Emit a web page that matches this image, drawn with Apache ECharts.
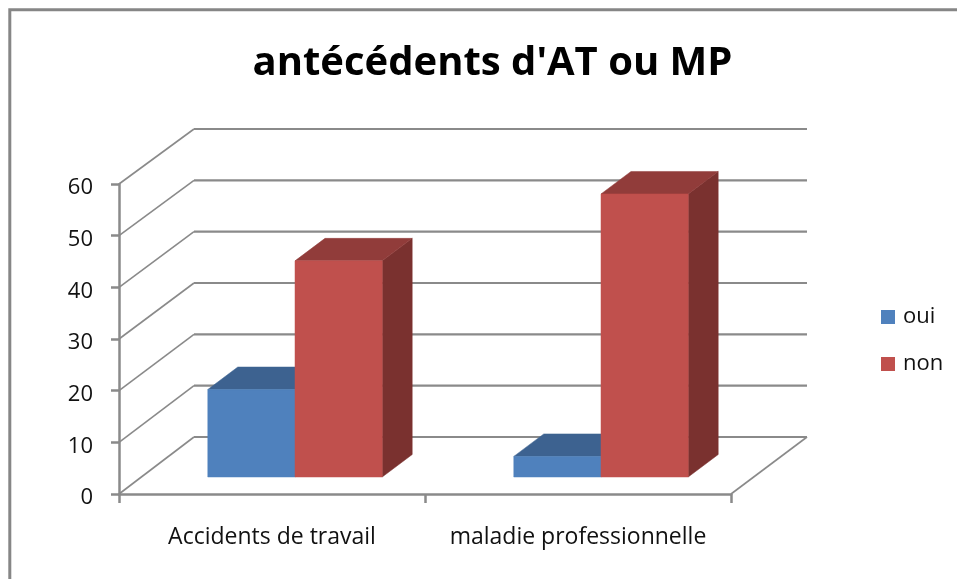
<!DOCTYPE html>
<html>
<head>
<meta charset="utf-8">
<style>html,body{margin:0;padding:0;background:#fff}#c{width:957px;height:579px}</style>
<script src="https://cdn.jsdelivr.net/npm/echarts@6/dist/echarts.min.js"></script>
</head>
<body>
<div id="c"></div>
<script>
const titleText = "antécédents d'AT ou MP";
const categories = ['Accidents de travail', 'maladie professionnelle'];
const oui = [17, 4];
const non = [42, 55];
const yTicks = [0, 10, 20, 30, 40, 50, 60];

const FONT = '"Open Sans", Lato, sans-serif';
const GRID_COLOR = '#8a8a8a';
const WALL = { dx: 75, dyBottom: -57, dyTop: -55 };
const PLANE = { dx: 23, dy: -17, scale: 0.996 };
const DEPTH = { dx: 30, dy: -22.5 };
const BAR_RATIO = 0.285;

function poly(points, fill) {
  return { type: 'polygon', shape: { points: points }, style: { fill: fill, stroke: fill, lineWidth: 0.5 } };
}

function barRenderer(side, front, top, right) {
  return function (params, api) {
    const i = api.value(0), v = api.value(1);
    const base = api.coord([i, 0]);
    const head = api.coord([i, v]);
    const w = api.size([1, 0])[0] * BAR_RATIO;
    const cx = base[0] + PLANE.dx;
    const x0 = side < 0 ? cx - w : cx;
    const x1 = x0 + w;
    const y0 = base[1] + PLANE.dy;
    const y1 = y0 - (base[1] - head[1]) * PLANE.scale;
    return {
      type: 'group',
      children: [
        poly([[x1, y0], [x1 + DEPTH.dx, y0 + DEPTH.dy], [x1 + DEPTH.dx, y1 + DEPTH.dy], [x1, y1]], right),
        poly([[x0, y1], [x0 + DEPTH.dx, y1 + DEPTH.dy], [x1 + DEPTH.dx, y1 + DEPTH.dy], [x1, y1]], top),
        poly([[x0, y0], [x1, y0], [x1, y1], [x0, y1]], front)
      ]
    };
  };
}

function wallRenderer(params, api) {
  const v = api.value(0);
  const sys = params.coordSys;
  const y = api.coord([0, v])[1];
  const left = sys.x, right = sys.x + sys.width;
  const dy = WALL.dyBottom + (WALL.dyTop - WALL.dyBottom) * v / 60;
  const children = [
    { type: 'line', shape: { x1: left, y1: y, x2: left + WALL.dx, y2: y + dy }, style: { stroke: GRID_COLOR, lineWidth: 1.6 } },
    { type: 'line', shape: { x1: left + WALL.dx, y1: y + dy, x2: right + WALL.dx + 1, y2: y + dy }, style: { stroke: GRID_COLOR, lineWidth: 2.2 } }
  ];
  if (v === 0) {
    children.push({ type: 'line', shape: { x1: right, y1: y, x2: right + WALL.dx + 1, y2: y + dy }, style: { stroke: GRID_COLOR, lineWidth: 1.6 } });
  }
  return { type: 'group', children: children };
}

const chart = echarts.init(document.getElementById('c'), null, { renderer: 'canvas' });
chart.setOption({
  animation: false,
  backgroundColor: '#fff',
  title: {
    text: titleText, left: 487.5, top: 39, textAlign: 'center',
    textStyle: { fontFamily: FONT, fontSize: 40, fontWeight: 'bold', color: '#000' }
  },
  legend: {
    orient: 'vertical', left: 876, top: 301, icon: 'rect', itemWidth: 14, itemHeight: 14, itemGap: 25,
    data: ['oui', 'non'],
    selectedMode: false,
    textStyle: { fontFamily: FONT, fontSize: 22, color: '#111', padding: [0, 0, 0, 3] }
  },
  grid: { left: 119, top: 184, width: 612, height: 310 },
  xAxis: {
    type: 'category', data: categories,
    axisLine: { lineStyle: { color: GRID_COLOR, width: 2.5 } },
    axisTick: { show: true, length: 9, interval: 0, lineStyle: { color: GRID_COLOR, width: 2.5 } },
    axisLabel: { fontFamily: FONT, fontSize: 23, color: '#111', margin: 32, interval: 0, hideOverlap: false }
  },
  yAxis: {
    type: 'value', min: 0, max: 60, interval: 10,
    splitLine: { show: false },
    axisLine: { show: true, lineStyle: { color: GRID_COLOR, width: 2.5 } },
    axisTick: { show: true, length: 8, lineStyle: { color: GRID_COLOR, width: 2.5 } },
    axisLabel: { fontFamily: FONT, fontSize: 22, color: '#111', margin: 26, verticalAlign: 'top', lineHeight: 8 }
  },
  series: [
    { type: 'custom', name: 'walls', z: 1, silent: true, renderItem: wallRenderer, data: yTicks.map(v => [v]), encode: { y: 0 } },
    { type: 'custom', name: 'oui', z: 2, itemStyle: { color: '#4F81BD' },
      renderItem: barRenderer(-1, '#4F81BD', '#3D6290', '#385A85'),
      data: oui.map((v, i) => [i, v]), encode: { x: 0, y: 1 } },
    { type: 'custom', name: 'non', z: 3, itemStyle: { color: '#C0504D' },
      renderItem: barRenderer(1, '#C0504D', '#913C3A', '#7A312F'),
      data: non.map((v, i) => [i, v]), encode: { x: 0, y: 1 } }
  ],
  graphic: [{
    type: 'rect', x: 9.8, y: 9.8, shape: { x: 0, y: 0, width: 1100, height: 800 },
    style: { fill: 'none', stroke: '#868686', lineWidth: 3 }, silent: true, z: 0
  }]
});
</script>
</body>
</html>
